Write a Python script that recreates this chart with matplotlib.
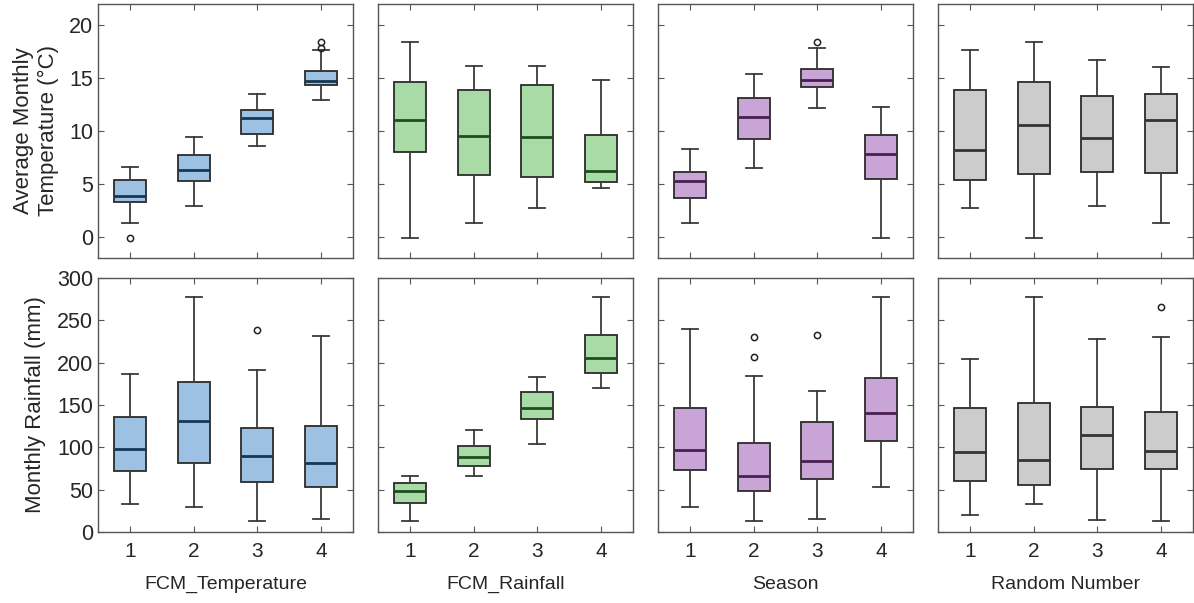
import matplotlib
matplotlib.use("Agg")
import matplotlib.pyplot as plt

plt.rcParams["font.family"] = ["Liberation Sans", "DejaVu Sans"]

# groupings (columns) and categories within each grouping
groupings = ["FCM_Temperature", "FCM_Rainfall", "Season", "Random Number"]
categories = ["1", "2", "3", "4"]

# --- Average monthly temperature (top row), one row per grouping ---
temp_lo = [[1.3, 2.9, 8.6, 12.9], [-0.1, 1.3, 2.7, 4.6], [1.3, 6.5, 12.2, -0.1], [2.7, -0.1, 2.9, 1.3]]
temp_q1 = [[3.3, 5.3, 9.7, 14.3], [8.0, 5.8, 5.7, 5.2], [3.7, 9.2, 14.2, 5.5], [5.4, 5.9, 6.1, 6.0]]
temp_med = [[3.9, 6.3, 11.2, 14.75], [11.0, 9.5, 9.4, 6.2], [5.25, 11.35, 14.8, 7.8], [8.2, 10.55, 9.3, 11.0]]
temp_q3 = [[5.35, 7.7, 12.0, 15.65], [14.65, 13.85, 14.35, 9.65], [6.1, 13.1, 15.85, 9.6], [13.9, 14.6, 13.35, 13.5]]
temp_hi = [[6.6, 9.4, 13.5, 17.65], [18.4, 16.1, 16.1, 14.8], [8.3, 15.35, 17.8, 12.3], [17.65, 18.4, 16.75, 16.05]]
temp_fliers = [[[-0.1], [], [], [18.4, 17.8]], [[], [], [], []], [[], [], [18.4], []], [[], [], [], []]]

# --- Monthly rainfall (bottom row) ---
rain_lo = [[33, 29, 13, 15], [13, 66, 104, 170], [30, 13, 15, 53], [20, 33, 14, 13]]
rain_q1 = [[72, 82, 59, 53], [34, 78, 134, 188], [73, 48, 63, 107], [60, 55, 75, 74]]
rain_med = [[98, 131, 90, 81], [49, 89, 147, 206], [97, 66, 84, 140], [94, 85, 114, 96]]
rain_q3 = [[136, 177, 123, 125], [58, 102, 165, 233], [146, 105, 130, 182], [146, 152, 148, 142]]
rain_hi = [[187, 277, 191, 232], [66, 120, 183, 278], [240, 184, 167, 278], [204, 278, 228, 230]]
rain_fliers = [[[], [], [238], []], [[], [], [], []], [[], [230, 207], [233], []], [[], [], [], [266]]]

fill_colors = ["#9dc1e2", "#a8dba6", "#c9a4d6", "#cccccc"]
median_colors = ["#163755", "#1f4d1f", "#4a1f4f", "#333333"]


def make_stats(lo, q1, med, q3, hi, fl):
    return [dict(whislo=lo[i], q1=q1[i], med=med[i], q3=q3[i], whishi=hi[i],
                 fliers=fl[i], label=categories[i]) for i in range(len(categories))]


fig = plt.figure(figsize=(11.94, 6.03), dpi=100)
W, H = 1194, 603
lefts = [98, 378, 658, 938]
tops = [4, 278]
aw, ah = 255, 254

rows = [
    (temp_lo, temp_q1, temp_med, temp_q3, temp_hi, temp_fliers, (-2, 22), [0, 5, 10, 15, 20]),
    (rain_lo, rain_q1, rain_med, rain_q3, rain_hi, rain_fliers, (0, 300), [0, 50, 100, 150, 200, 250, 300]),
]

for r, (lo, q1, med, q3, hi, fl, ylim, yticks) in enumerate(rows):
    for c in range(4):
        ax = fig.add_axes([lefts[c] / W, 1 - (tops[r] + ah) / H, aw / W, ah / H])
        stats = make_stats(lo[c], q1[c], med[c], q3[c], hi[c], fl[c])
        ax.bxp(stats, positions=[1, 2, 3, 4], widths=0.5, patch_artist=True,
               boxprops=dict(facecolor=fill_colors[c], edgecolor="#2b2b2b", linewidth=1.3),
               medianprops=dict(color=median_colors[c], linewidth=2),
               whiskerprops=dict(color="#3a3a3a", linewidth=1.3),
               capprops=dict(color="#3a3a3a", linewidth=1.3),
               capwidths=0.25,
               flierprops=dict(marker="o", markersize=4.5, markerfacecolor="none",
                               markeredgecolor="#222222", markeredgewidth=1.1))
        ax.set_xlim(0.5, 4.5)
        ax.set_ylim(*ylim)
        ax.set_yticks(yticks)
        ax.tick_params(direction="in", top=True, right=True, length=4, width=0.8,
                       color="#555555", labelsize=15.5, labelcolor="#262626")
        for s in ax.spines.values():
            s.set_color("#555555")
            s.set_linewidth(1.0)
        if c > 0:
            ax.set_yticklabels([])
        if r == 0:
            ax.set_xticklabels([])
        else:
            ax.set_xticklabels(categories, fontsize=15)
            ax.tick_params(axis="x", pad=7)
            ax.set_xlabel(groupings[c], fontsize=14, color="#262626", labelpad=11)
        if c == 0:
            if r == 0:
                ax.set_ylabel("Average Monthly\nTemperature (\u00b0C)", fontsize=16,
                              color="#262626", labelpad=7, linespacing=1.25)
            else:
                ax.set_ylabel("Monthly Rainfall (mm)", fontsize=16, color="#262626", labelpad=8)

fig.savefig("out.png", dpi=100)
